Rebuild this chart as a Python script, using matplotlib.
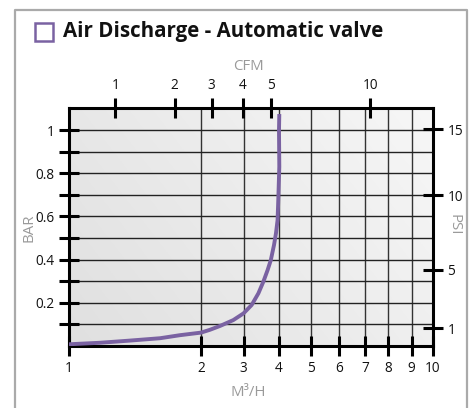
import numpy as np
import matplotlib
matplotlib.use("Agg")
import matplotlib.pyplot as plt
from matplotlib.patches import Rectangle
from matplotlib.lines import Line2D
from matplotlib.ticker import FixedLocator, NullLocator

# ---------------- data ----------------
title = "Air Discharge - Automatic valve"
m3h_ticks = [1, 2, 3, 4, 5, 6, 7, 8, 9, 10]
bar_major = [0.2, 0.4, 0.6, 0.8, 1.0]
bar_major_labels = ["0.2", "0.4", "0.6", "0.8", "1"]
bar_minor = [0.1, 0.3, 0.5, 0.7, 0.9]
cfm_labels = ["1", "2", "3", "4", "5", "10"]
cfm_pos_m3h = [1.35, 1.80, 2.25, 2.98, 3.78, 7.22]   # where CFM ticks sit on the M3/H axis
psi_labels = ["15", "10", "5", "1"]
psi_pos_bar = [1.003, 0.699, 0.352, 0.082]          # where PSI ticks sit on the BAR axis

flow_m3h = [1.0, 1.235, 1.46, 1.69, 1.84, 2.0, 2.21, 2.45, 2.76, 3.0, 3.23, 3.42,
            3.56, 3.68, 3.77, 3.86, 3.915, 3.96, 3.98, 4.01, 4.0, 4.01]
pressure_bar = [0.008, 0.015, 0.025, 0.036, 0.05, 0.062, 0.075, 0.093, 0.12, 0.151, 0.19, 0.244,
                0.298, 0.352, 0.398, 0.468, 0.522, 0.583, 0.676, 0.83, 1.0, 1.074]

# chart's own (irregular) horizontal scale: fraction of axis width for each m3/h tick
scale_frac = [0.0, 0.3626, 0.4794, 0.5769, 0.6635, 0.7431, 0.8132, 0.8764, 0.9412, 1.0]

def fwd(v):
    return np.interp(v, m3h_ticks, scale_frac)

def inv(f):
    return np.interp(f, scale_frac, m3h_ticks)

PURPLE = "#7a62a2"
GRAY = "#9a9a9a"
FONT = "Open Sans"

fig = plt.figure(figsize=(4.69, 4.08), dpi=100)
W, H = 469, 408

def fx(px):
    return px / W

def fy(py):
    return 1 - py / H

# outer frame (top, left, right)
fig.add_artist(Line2D([fx(15), fx(15), fx(467), fx(467)], [0, fy(10), fy(10), 0],
                      transform=fig.transFigure, color="#aaaaaa", lw=1.6))
# legend square
fig.add_artist(Rectangle((fx(35), fy(41)), fx(18), 18 / H, transform=fig.transFigure,
                         facecolor="none", edgecolor=PURPLE, lw=1.8))
fig.text(fx(63), fy(32), title, fontsize=14.8, fontweight="bold", family=FONT,
         va="center", ha="left", color="#111111")

ax = fig.add_axes([fx(69), fy(346), fx(433) - fx(69), (346 - 108) / H])
ax.set_xscale("function", functions=(fwd, inv))
ax.set_xlim(1, 10)
ax.set_ylim(0, 1.102)

# background gradient + faint hatch
gx, gy = np.meshgrid(np.linspace(0, 1, 200), np.linspace(0, 1, 200))
grad = 0.878 + 0.06 * gx + 0.03 * gy
ax.imshow(np.dstack([grad, grad, grad]), extent=(0, 1, 0, 1), transform=ax.transAxes,
          origin="lower", aspect="auto", zorder=0)
plt.rcParams["hatch.color"] = "white"
plt.rcParams["hatch.linewidth"] = 0.8
ax.add_patch(Rectangle((0, 0), 1, 1, transform=ax.transAxes, facecolor="none",
                       edgecolor="none", hatch="\\\\\\", alpha=0.5, zorder=0.5))
ax.patch.set_visible(False)

# grid
for v in m3h_ticks[1:-1]:
    ax.axvline(v, color="#333333", lw=1.0, zorder=1)
for v in bar_major + bar_minor:
    ax.axhline(v, color="#222222", lw=1.0, zorder=1)

ax.plot(flow_m3h, pressure_bar, color=PURPLE, lw=2.8, zorder=3,
        solid_capstyle="butt", solid_joinstyle="round")

for s in ax.spines.values():
    s.set_linewidth(2.2)
    s.set_color("black")

tick_kw = dict(direction="inout", length=15, width=2.2, color="black",
               labelsize=9.8, labelcolor="#111111")
ax.xaxis.set_major_locator(FixedLocator(m3h_ticks))
ax.xaxis.set_minor_locator(NullLocator())
ax.set_xticklabels([str(v) for v in m3h_ticks], family=FONT)
ax.tick_params(axis="x", which="major", pad=3, **tick_kw)
ax.yaxis.set_major_locator(FixedLocator(bar_major))
ax.yaxis.set_minor_locator(FixedLocator(bar_minor))
ax.set_yticklabels(bar_major_labels, family=FONT)
ax.tick_params(axis="y", which="major", pad=3, **tick_kw)
ax.tick_params(axis="y", which="minor", direction="inout", length=15, width=2.2, color="black")

# top CFM axis
axt = ax.twiny()
axt.set_xscale("function", functions=(fwd, inv))
axt.set_xlim(1, 10)
axt.xaxis.set_major_locator(FixedLocator(cfm_pos_m3h))
axt.xaxis.set_minor_locator(NullLocator())
axt.set_xticklabels(cfm_labels, family=FONT)
axt.tick_params(axis="x", which="major", pad=3, **tick_kw)
for s in axt.spines.values():
    s.set_visible(False)
axt.patch.set_visible(False)

# right PSI axis
axr = ax.twinx()
axr.set_ylim(0, 1.102)
axr.yaxis.set_major_locator(FixedLocator(psi_pos_bar))
axr.yaxis.set_minor_locator(NullLocator())
axr.set_yticklabels(psi_labels, family=FONT)
axr.tick_params(axis="y", which="major", pad=3, **tick_kw)
for s in axr.spines.values():
    s.set_visible(False)
axr.patch.set_visible(False)

# axis titles
fig.text(fx(248), fy(66), "CFM", fontsize=10.8, color=GRAY, family=FONT, ha="center", va="center")
fig.text(fx(248), fy(392), "M³/H", fontsize=10.8, color=GRAY, family=FONT, ha="center", va="center")
fig.text(fx(29), fy(228), "BAR", fontsize=10.8, color=GRAY, family=FONT, ha="center", va="center", rotation=90)
fig.text(fx(454), fy(225), "PSI", fontsize=10.8, color=GRAY, family=FONT, ha="center", va="center", rotation=270)

fig.savefig("out.png", dpi=100)
